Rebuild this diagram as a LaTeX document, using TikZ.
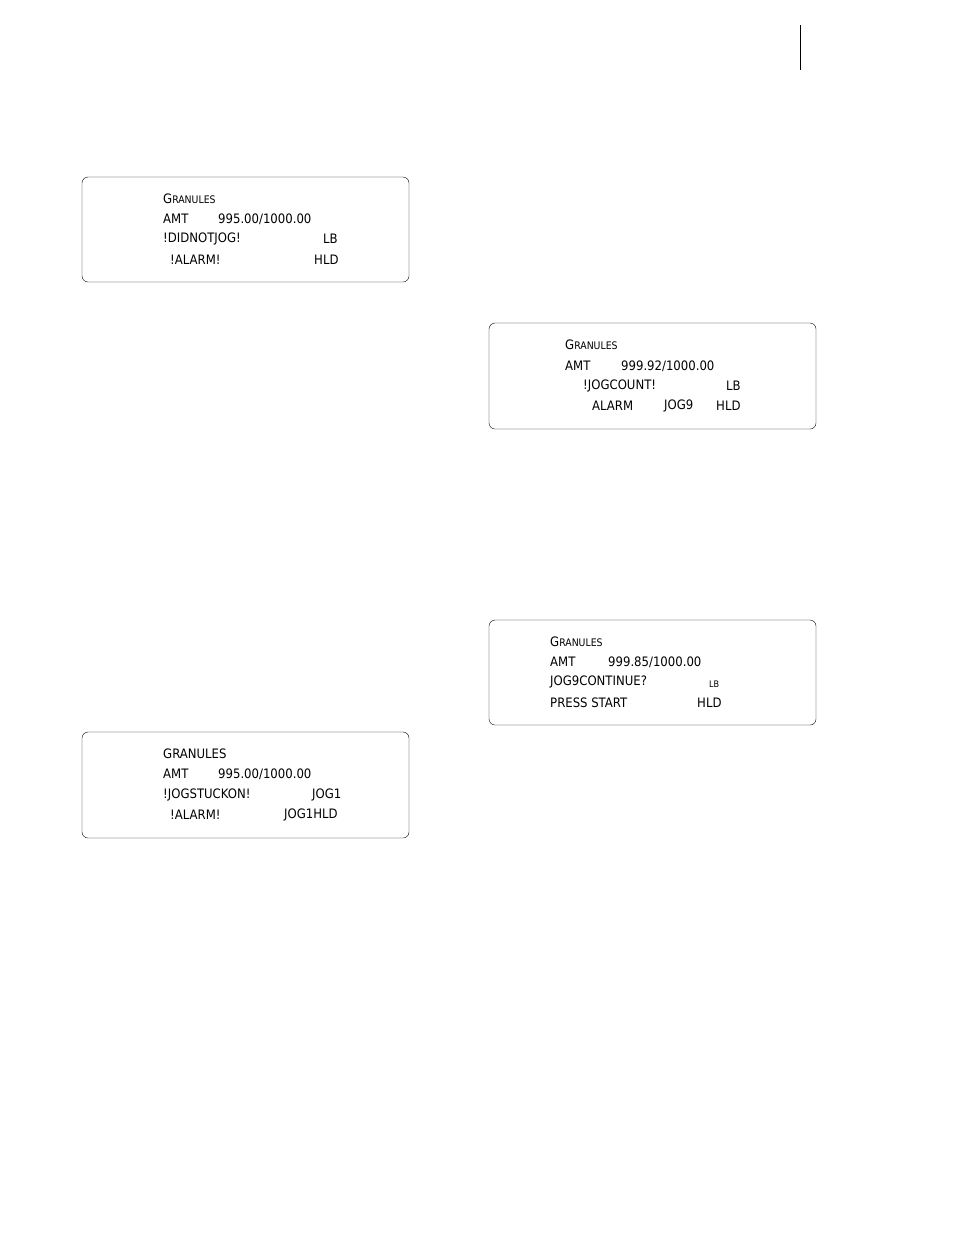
\documentclass[tikz,border=0pt]{standalone}
\usepackage{fontspec}
\newfontfamily\lcd{DejaVu Sans Condensed}
\begin{document}
\begin{tikzpicture}[x=1pt,y=-1pt,
 lcdbox/.style={draw,thin,rounded corners=6pt},
 t/.style={anchor=west,inner sep=0pt,font=\lcd\fontsize{13}{13}\selectfont},
 ts/.style={anchor=west,inner sep=0pt,font=\lcd\fontsize{9}{9}\selectfont}]
\useasboundingbox (0,0) rectangle (954,1235);
\draw (800,25) -- (800,70);
% box 1
\draw[lcdbox] (82,177) rectangle (409,282);
\node[t] (a1) at (163,199) {G\scalebox{0.8}{RANULES}};
\node[t] (a2) at (163,219) {AMT};
\node[t] (a3) at (218,219) {995.00/1000.00};
\node[t] (a4) at (163,239) {!DIDNOTJOG!};
\node[t] (a5) at (323,239) {LB};
\node[t] (a6) at (170,260) {!ALARM!};
\node[t] (a7) at (314,260) {HLD};
% box 2
\draw[lcdbox] (489,323) rectangle (816,429);
\node[t] (b1) at (565,345) {G\scalebox{0.8}{RANULES}};
\node[t] (b2) at (565,366) {AMT};
\node[t] (b3) at (621,366) {999.92/1000.00};
\node[t] (b4) at (583,386) {!JOGCOUNT!};
\node[t] (b5) at (726,386) {LB};
\node[t] (b6) at (592,406) {ALARM};
\node[t] (b7) at (664,406) {JOG9};
\node[t] (b8) at (716,406) {HLD};
% box 3
\draw[lcdbox] (489,620) rectangle (816,725);
\node[t] (c1) at (550,642) {G\scalebox{0.8}{RANULES}};
\node[t] (c2) at (550,662) {AMT};
\node[t] (c3) at (608,662) {999.85/1000.00};
\node[t] (c4) at (550,682) {JOG9CONTINUE?};
\node[ts] (c5) at (709,684) {LB};
\node[t] (c6) at (550,703) {PRESS START};
\node[t] (c7) at (697,703) {HLD};
% box 4
\draw[lcdbox] (82,732) rectangle (409,838);
\node[t] (d1) at (163,754) {GRANULES};
\node[t] (d2) at (163,774) {AMT};
\node[t] (d3) at (218,774) {995.00/1000.00};
\node[t] (d4) at (163,795) {!JOGSTUCKON!};
\node[t] (d5) at (312,795) {JOG1};
\node[t] (d6) at (170,815) {!ALARM!};
\node[t] (d7) at (284,815) {JOG1HLD};
\end{tikzpicture}
\end{document}
